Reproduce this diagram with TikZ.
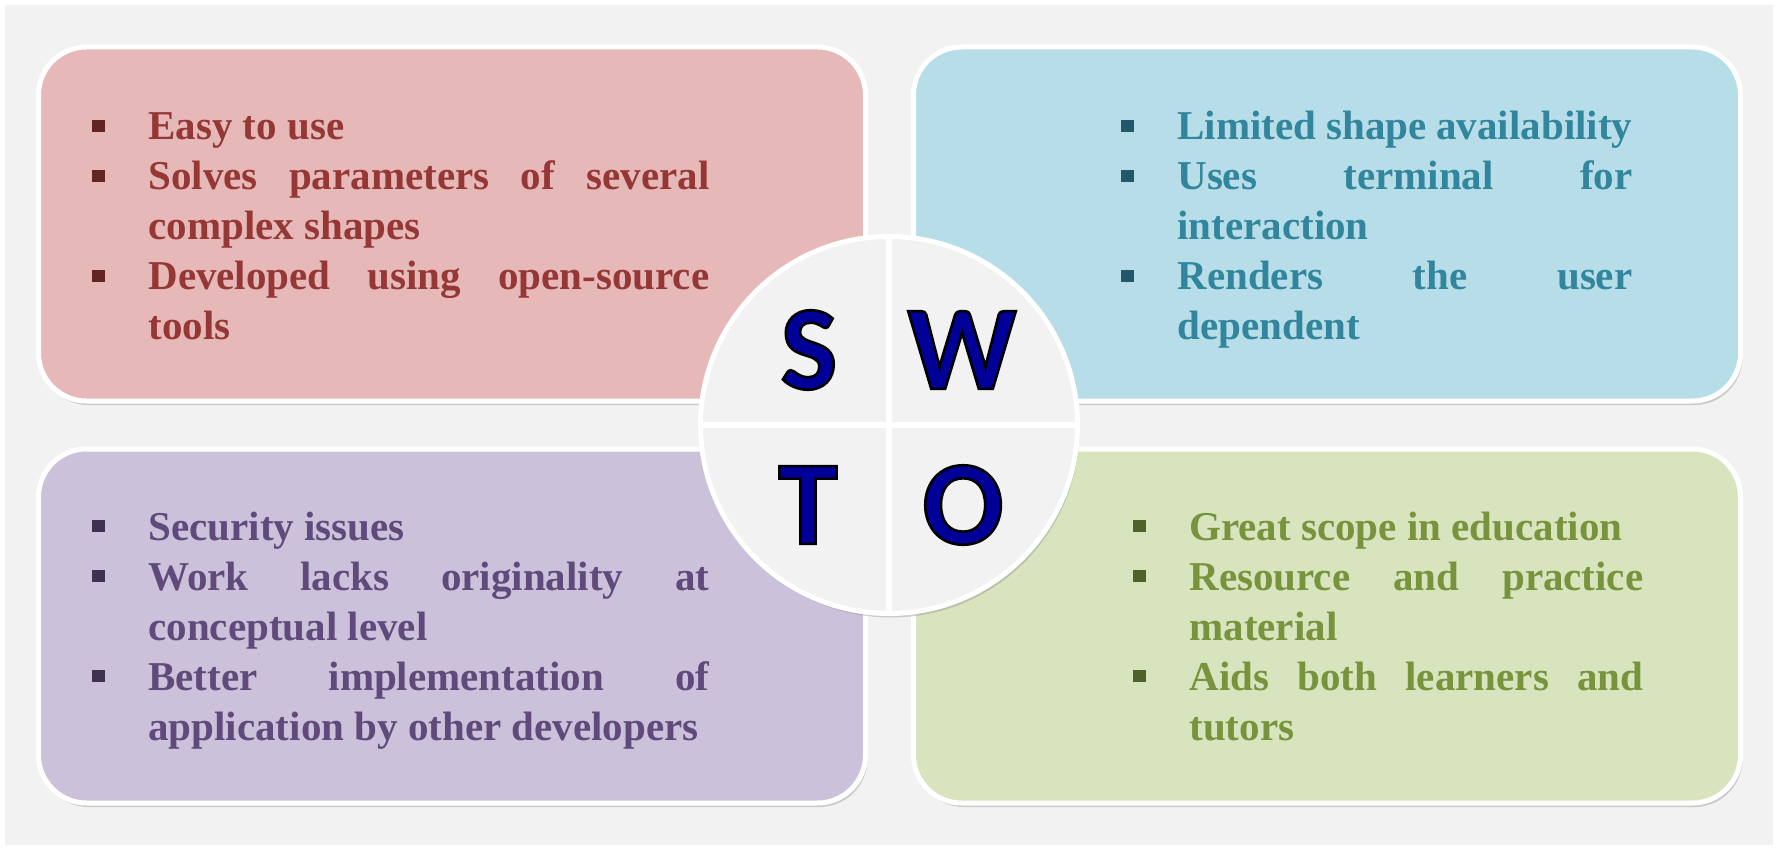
\documentclass[tikz,border=0pt]{standalone}
\usepackage{fontspec}
\setmainfont{Liberation Serif}
\newfontfamily\letrafont{Carlito}
\usetikzlibrary{shadows}
\definecolor{fondo}{HTML}{F2F2F2}
\definecolor{rosa}{HTML}{E6B9B8}
\definecolor{rosaosc}{HTML}{953735}
\definecolor{rosabul}{HTML}{632523}
\definecolor{celeste}{HTML}{B7DEE8}
\definecolor{celesteosc}{HTML}{31859C}
\definecolor{celestebul}{HTML}{215968}
\definecolor{lila}{HTML}{CCC1DA}
\definecolor{lilaosc}{HTML}{604A7B}
\definecolor{lilabul}{HTML}{403152}
\definecolor{verde}{HTML}{D7E4BD}
\definecolor{verdeosc}{HTML}{77933C}
\definecolor{verdebul}{HTML}{4F6228}
\definecolor{azulletra}{HTML}{000099}
\hyphenpenalty=10000 \exhyphenpenalty=10000
\tolerance=10000 \hbadness=10000
\newcommand{\punto}[2]{\noindent\hangindent=28pt\hangafter=1%
  \makebox[28pt][l]{\textcolor{#1}{\rule[4pt]{6.5pt}{6pt}}}#2\par}
% filled letter with a thin black outline (text render mode 2)
\newcommand{\contorno}[1]{\special{pdf:code q 2 Tr 1.3 w 0 0 0 RG}#1\special{pdf:code Q}}

\begin{document}
\begin{tikzpicture}[x=0.5pt,y=-0.5pt,
    caja/.style={draw=white,line width=2.5pt,rounded corners=24pt,
                 minimum width=413.5pt,minimum height=177pt,
                 drop shadow={shadow xshift=1pt,shadow yshift=-2pt,opacity=0.35}},
    lista/.style={anchor=base west,inner sep=0pt,text width=#1,align=justify,
                  font=\bfseries\fontsize{20.5}{25}\selectfont},
    letra/.style={text=azulletra,inner sep=0pt,
                  font=\letrafont\bfseries\fontsize{60}{60}\selectfont}]
  \useasboundingbox (0,0) rectangle (1778,850);
  \fill[white] (0,0) rectangle (1778,850);
  \fill[fondo] (5,5) rectangle (1773,845);
  \foreach \n/\c/\x/\y in {s/rosa/452/224,w/celeste/1327/224,t/lila/452/626,o/verde/1327/626}
    \node[caja,fill=\c] (c\n) at (\x,\y) {};
  \node[lista=308.5pt,text=rosaosc] (ts) at (92,140)
    {\punto{rosabul}{Easy to use}\punto{rosabul}{Solves parameters of several complex shapes}%
     \punto{rosabul}{Developed using open-source tools}};
  \node[lista=255.5pt,text=celesteosc] (tw) at (1121,140)
    {\punto{celestebul}{Limited shape availability}\punto{celestebul}{Uses terminal for interaction}%
     \punto{celestebul}{Renders the user dependent}};
  \node[lista=308.5pt,text=lilaosc] (tt) at (92,540)
    {\punto{lilabul}{Security issues}\punto{lilabul}{Work lacks originality at conceptual level}%
     \punto{lilabul}{Better implementation of application by other developers}};
  \node[lista=255pt,text=verdeosc] (to) at (1133,540)
    {\punto{verdebul}{Great scope in education}\punto{verdebul}{Resource and practice material}%
     \punto{verdebul}{Aids both learners and tutors}};
  % centre disc
  \node[circle,fill=fondo,draw=white,line width=2.5pt,minimum size=188.5pt,inner sep=0pt,
        drop shadow={shadow xshift=1pt,shadow yshift=-2pt,opacity=0.35}] (disco) at (889,425) {};
  \draw[white,line width=3pt] (disco.north) -- (disco.south) (disco.west) -- (disco.east);
  \node[letra] (ls) at (809,350) {\contorno{S}};
  \node[letra] (lw) at (962,350) {\contorno{W}};
  \node[letra] (lt) at (808,505) {\contorno{T}};
  \node[letra] (lo) at (963,505) {\contorno{O}};
\end{tikzpicture}
\end{document}
